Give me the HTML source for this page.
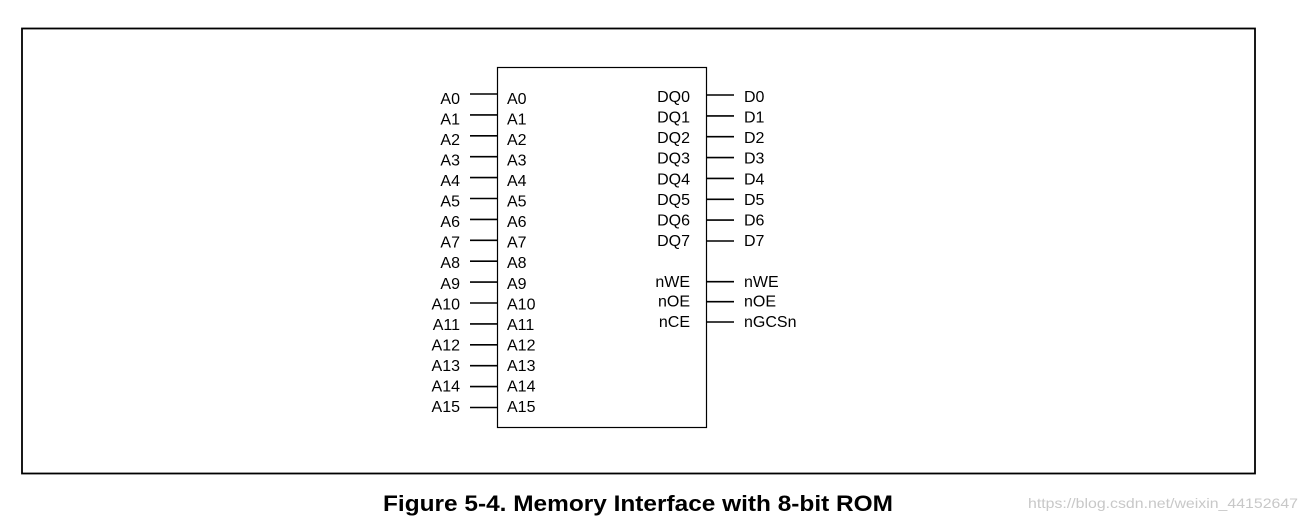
<!DOCTYPE html>
<html><head><meta charset="utf-8"><style>
html,body{margin:0;padding:0;background:#fff;}
svg{display:block;}
text{font-family:"Liberation Sans",Arial,sans-serif;font-size:16px;fill:#000;}
</style></head><body>
<svg width="1309" height="524" viewBox="0 0 1309 524" xmlns="http://www.w3.org/2000/svg">
<rect x="22" y="28.5" width="1233" height="445" fill="none" stroke="#000" stroke-width="1.8"/>
<rect x="497.5" y="67.5" width="209" height="360" fill="none" stroke="#000" stroke-width="1.2"/>
<g stroke="#000" stroke-width="1.6">
<line x1="470" x2="497" y1="94" y2="94"/><line x1="470" x2="497" y1="114.9" y2="114.9"/><line x1="470" x2="497" y1="135.8" y2="135.8"/><line x1="470" x2="497" y1="156.7" y2="156.7"/><line x1="470" x2="497" y1="177.6" y2="177.6"/><line x1="470" x2="497" y1="198.5" y2="198.5"/><line x1="470" x2="497" y1="219.4" y2="219.4"/><line x1="470" x2="497" y1="240.3" y2="240.3"/><line x1="470" x2="497" y1="261.2" y2="261.2"/><line x1="470" x2="497" y1="282.1" y2="282.1"/><line x1="470" x2="497" y1="303" y2="303"/><line x1="470" x2="497" y1="323.9" y2="323.9"/><line x1="470" x2="497" y1="344.8" y2="344.8"/><line x1="470" x2="497" y1="365.7" y2="365.7"/><line x1="470" x2="497" y1="386.6" y2="386.6"/><line x1="470" x2="497" y1="407.5" y2="407.5"/>
<line x1="707" x2="734" y1="95" y2="95"/><line x1="707" x2="734" y1="115.9" y2="115.9"/><line x1="707" x2="734" y1="136.7" y2="136.7"/><line x1="707" x2="734" y1="157.6" y2="157.6"/><line x1="707" x2="734" y1="178.4" y2="178.4"/><line x1="707" x2="734" y1="199.3" y2="199.3"/><line x1="707" x2="734" y1="220.1" y2="220.1"/><line x1="707" x2="734" y1="241" y2="241"/>
<line x1="707" x2="734" y1="281.7" y2="281.7"/><line x1="707" x2="734" y1="301.7" y2="301.7"/><line x1="707" x2="734" y1="322" y2="322"/>
</g>
<g text-anchor="end">
<text x="460" y="104">A0</text><text x="460" y="124.5">A1</text><text x="460" y="145.1">A2</text><text x="460" y="165.6">A3</text><text x="460" y="186.1">A4</text><text x="460" y="206.7">A5</text><text x="460" y="227.2">A6</text><text x="460" y="247.7">A7</text><text x="460" y="268.2">A8</text><text x="460" y="288.8">A9</text><text x="460" y="309.3">A10</text><text x="460" y="329.8">A11</text><text x="460" y="350.4">A12</text><text x="460" y="370.9">A13</text><text x="460" y="391.4">A14</text><text x="460" y="412">A15</text>
<text x="690" y="102">DQ0</text><text x="690" y="122.6">DQ1</text><text x="690" y="143.1">DQ2</text><text x="690" y="163.7">DQ3</text><text x="690" y="184.3">DQ4</text><text x="690" y="204.9">DQ5</text><text x="690" y="225.4">DQ6</text><text x="690" y="246">DQ7</text>
<text x="690" y="287">nWE</text><text x="690" y="306.5">nOE</text><text x="690" y="327">nCE</text>
</g>
<g>
<text x="507" y="104">A0</text><text x="507" y="124.5">A1</text><text x="507" y="145.1">A2</text><text x="507" y="165.6">A3</text><text x="507" y="186.1">A4</text><text x="507" y="206.7">A5</text><text x="507" y="227.2">A6</text><text x="507" y="247.7">A7</text><text x="507" y="268.2">A8</text><text x="507" y="288.8">A9</text><text x="507" y="309.3">A10</text><text x="507" y="329.8">A11</text><text x="507" y="350.4">A12</text><text x="507" y="370.9">A13</text><text x="507" y="391.4">A14</text><text x="507" y="412">A15</text>
<text x="744" y="102">D0</text><text x="744" y="122.6">D1</text><text x="744" y="143.1">D2</text><text x="744" y="163.7">D3</text><text x="744" y="184.3">D4</text><text x="744" y="204.9">D5</text><text x="744" y="225.4">D6</text><text x="744" y="246">D7</text>
<text x="744" y="287">nWE</text><text x="744" y="306.5">nOE</text><text x="744" y="327">nGCSn</text>
</g>
<text x="383" y="511" textLength="510" lengthAdjust="spacingAndGlyphs" style="font-size:22px;font-weight:bold">Figure 5-4. Memory Interface with 8-bit ROM</text>
<text x="1028" y="508" textLength="270" lengthAdjust="spacingAndGlyphs" style="font-size:14px;fill:#c8c8c8">https://blog.csdn.net/weixin_44152647</text>
</svg>
</body></html>
